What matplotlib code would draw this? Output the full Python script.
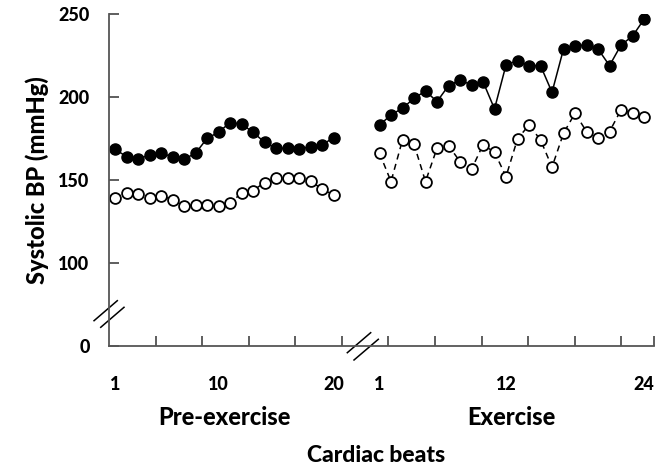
import numpy as np
import matplotlib.pyplot as plt

plt.rcParams['font.family'] = ['Lato', 'DejaVu Sans']
plt.rcParams['font.weight'] = 900
plt.rcParams['axes.labelweight'] = 900

# systolic BP (mmHg), beat by beat
pre_filled = [168.5, 164, 162.5, 165, 166, 164, 162.5, 166, 175, 178.7,
              184.5, 183.7, 178.7, 172.7, 169, 169, 168.5, 170, 171, 175.5]
pre_open = [139, 142.3, 141.6, 139.3, 140.5, 138, 134.3, 134.8, 134.8, 134,
            136, 142, 143.5, 148.4, 151, 151, 151, 149.4, 144.4, 141]
ex_filled = [183, 189.2, 193.2, 199.2, 203.6, 197.2, 206.8, 210.2, 207.2, 209.2,
             192.8, 219.3, 221.9, 218.9, 218.9, 202.8, 228.9, 230.9, 231.3, 228.9,
             218.9, 231.3, 236.7, 246.8]
ex_open = [166.1, 149, 174.1, 171.5, 149, 169.1, 170.7, 161, 156.4, 171.1,
           166.7, 152, 174.7, 183.1, 174.1, 157.7, 178.1, 190.2, 179.1, 175.1,
           179.1, 192.2, 190.2, 187.8]

pre_beats = np.arange(1, len(pre_filled) + 1)
ex_beats = np.arange(1, len(ex_filled) + 1)
gap = 3  # empty beats between the two phases
ex_x = len(pre_beats) + gap + ex_beats

pre_ticklabels = [1, 10, 20]
ex_ticklabels = [1, 12, 24]

fig = plt.figure(figsize=(6.66, 4.69), dpi=100)
ax = fig.add_axes([0.1637, 0.2629, 0.8178, 0.7072])

fill_kw = dict(color='black', lw=1.1, marker='o', ms=8, mfc='black', mec='black')
open_kw = dict(color='black', lw=1.1, ls=(0, (4, 3)), marker='o', ms=7.8,
               mfc='white', mec='black', mew=1.3)
ax.plot(pre_beats, pre_filled, **fill_kw)
ax.plot(pre_beats, pre_open, **open_kw)
ax.plot(ex_x, ex_filled, **fill_kw)
ax.plot(ex_x, ex_open, **open_kw)

xmin, xmax = 0.48, 47.84
ax.set_xlim(xmin, xmax)
ax.set_ylim(50, 250)

for s in ['top', 'right']:
    ax.spines[s].set_visible(False)
for s in ['left', 'bottom']:
    ax.spines[s].set_color('#555555')
    ax.spines[s].set_linewidth(1.3)

ax.set_yticks([50, 100, 150, 200, 250], ['0', '100', '150', '200', '250'])
ax.tick_params(axis='y', direction='in', length=7, width=1.1, color='#333333',
               labelsize=13, pad=14)

xt = list(pre_ticklabels) + [len(pre_beats) + gap + b for b in ex_ticklabels]
ax.set_xticks(xt, [str(v) for v in pre_ticklabels + ex_ticklabels])
ax.tick_params(axis='x', which='major', length=0, labelsize=13, pad=22)
minor = list(np.arange(xmin + 4.05, xmax - 1, 4.05)) + [xmax]
ax.set_xticks(minor, minor=True)
ax.tick_params(axis='x', which='minor', direction='in', length=7, width=1.1,
               color='#333333')
for lab in ax.get_xticklabels() + ax.get_yticklabels():
    lab.set_fontweight(900)

# axis break marks
brk = dict(color='black', lw=1.1, clip_on=False, transform=ax.transAxes)
ax.plot([-0.0275, 0.0152], [0.0754, 0.1357], **brk)
ax.plot([-0.0152, 0.0275], [0.0555, 0.1158], **brk)
ax.plot([0.4375, 0.4804], [-0.0211, 0.0392], **brk)
ax.plot([0.4498, 0.4944], [-0.0431, 0.0193], **brk)

trans = ax.get_xaxis_transform()
ax.text(pre_beats.mean(), -0.215, 'Pre-exercise', transform=trans,
        ha='center', va='center', fontsize=17, fontweight=900)
ax.text(ex_x.mean(), -0.215, 'Exercise', transform=trans,
        ha='center', va='center', fontsize=17, fontweight=900)

ax.set_xlabel('Cardiac beats', fontsize=16.5, fontweight=900)
ax.xaxis.set_label_coords(0.49, -0.298)
ax.set_ylabel('Systolic BP (mmHg)', fontsize=17, fontweight=900)
ax.yaxis.set_label_coords(-0.11, 0.5)

fig.savefig('out.png', dpi=100)
